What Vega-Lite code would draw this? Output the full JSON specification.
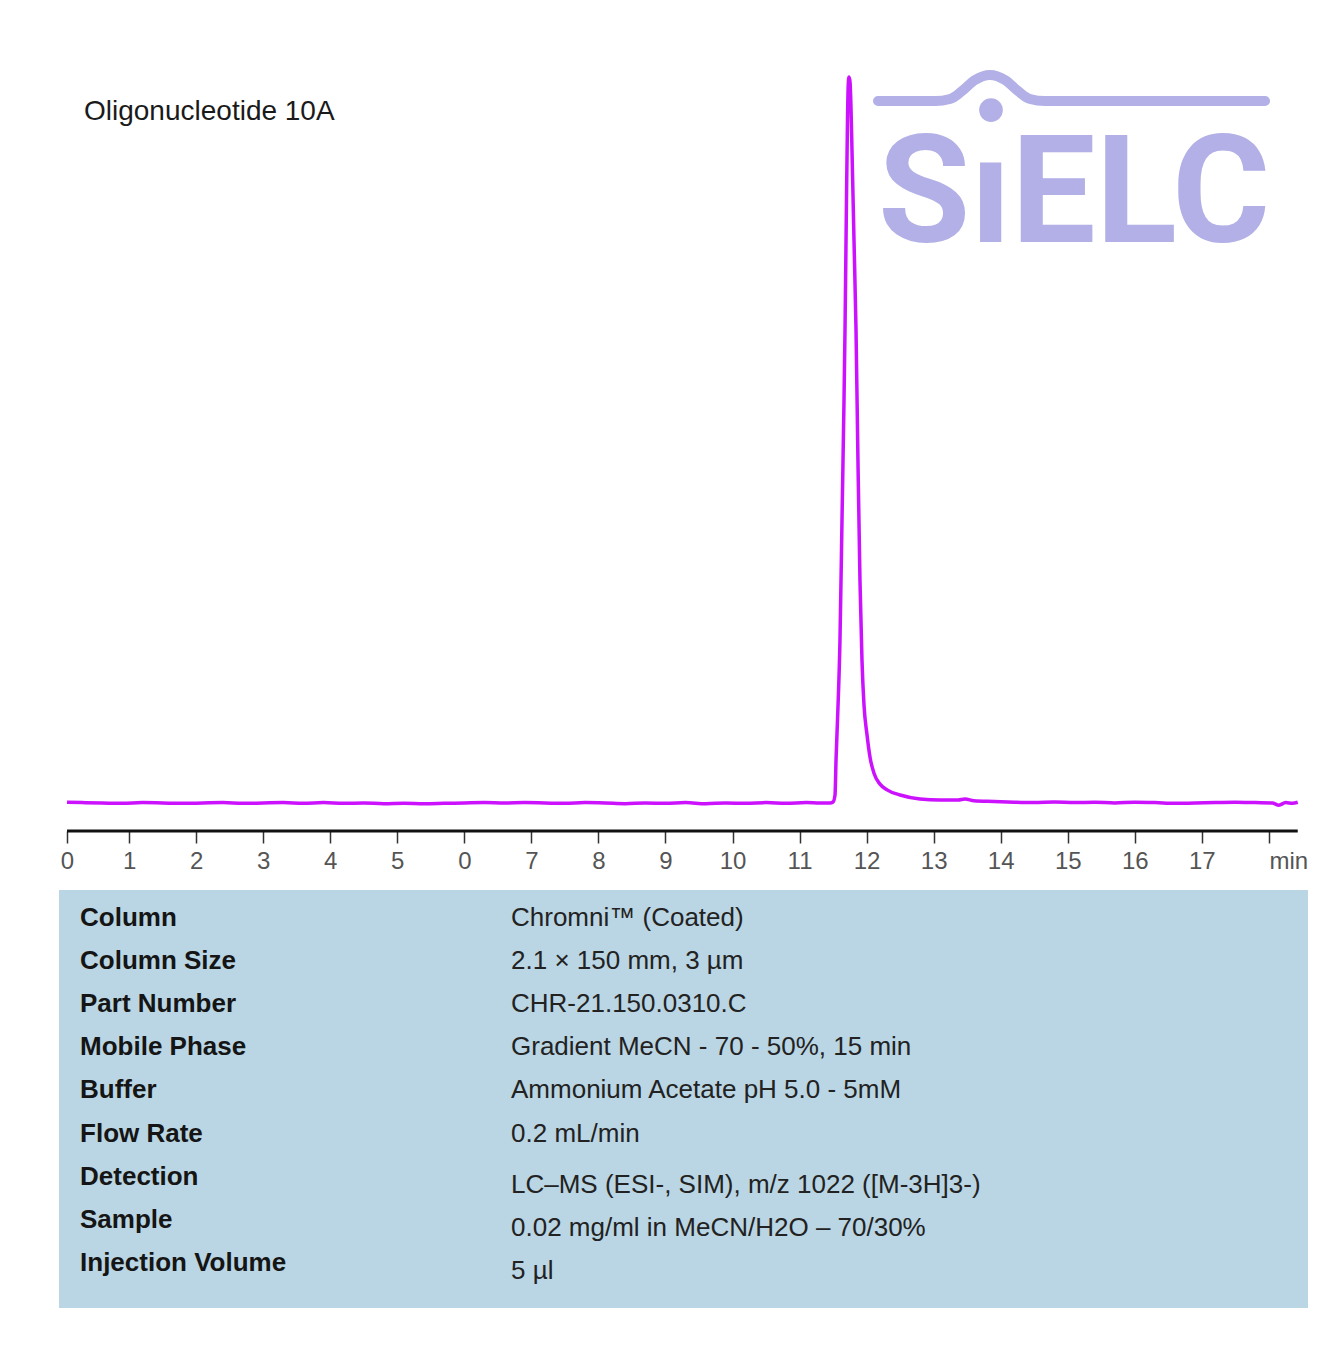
{
  "$schema": "https://vega.github.io/schema/vega-lite/v6.json",
  "background": "white",
  "padding": {"left": 59, "top": 40, "right": 0, "bottom": 0},
  "config": {"font": "Liberation Sans"},
  "spacing": 17,
  "datasets": {
    "trace": [
      {"t": 0.075, "s": 0.1}, {"t": 0.3, "s": 0.05}, {"t": 0.6, "s": 0.0}, {"t": 0.9, "s": -0.05},
      {"t": 1.2, "s": 0.05}, {"t": 1.5, "s": 0.0}, {"t": 1.8, "s": -0.05}, {"t": 2.1, "s": 0.0},
      {"t": 2.4, "s": 0.05}, {"t": 2.7, "s": -0.05}, {"t": 3.0, "s": 0.0}, {"t": 3.3, "s": 0.05},
      {"t": 3.6, "s": -0.05}, {"t": 3.9, "s": 0.05}, {"t": 4.2, "s": -0.05}, {"t": 4.5, "s": 0.0},
      {"t": 4.8, "s": -0.1}, {"t": 5.1, "s": -0.05}, {"t": 5.4, "s": -0.1}, {"t": 5.7, "s": -0.05},
      {"t": 6.0, "s": 0.0}, {"t": 6.3, "s": 0.05}, {"t": 6.6, "s": 0.0}, {"t": 6.9, "s": 0.05},
      {"t": 7.2, "s": 0.0}, {"t": 7.5, "s": -0.05}, {"t": 7.8, "s": 0.05}, {"t": 8.1, "s": 0.0},
      {"t": 8.4, "s": -0.1}, {"t": 8.7, "s": 0.0}, {"t": 9.0, "s": -0.05}, {"t": 9.3, "s": 0.05},
      {"t": 9.6, "s": -0.1}, {"t": 9.9, "s": 0.0}, {"t": 10.2, "s": -0.05}, {"t": 10.5, "s": 0.05},
      {"t": 10.8, "s": -0.05}, {"t": 11.1, "s": 0.05}, {"t": 11.3, "s": 0.0},
      {"t": 11.454, "s": 0.0}, {"t": 11.499, "s": 0.14}, {"t": 11.529, "s": 1.1}, {"t": 11.544, "s": 5.9},
      {"t": 11.566, "s": 11.4}, {"t": 11.603, "s": 22.5}, {"t": 11.633, "s": 39.0}, {"t": 11.663, "s": 55.5},
      {"t": 11.678, "s": 65.2}, {"t": 11.7, "s": 83.1}, {"t": 11.715, "s": 94.1}, {"t": 11.726, "s": 98.9},
      {"t": 11.738, "s": 100.0}, {"t": 11.753, "s": 99.3}, {"t": 11.768, "s": 95.5}, {"t": 11.782, "s": 89.9},
      {"t": 11.812, "s": 77.5}, {"t": 11.842, "s": 65.2}, {"t": 11.871, "s": 47.2}, {"t": 11.901, "s": 30.7},
      {"t": 11.931, "s": 19.7}, {"t": 11.961, "s": 13.5}, {"t": 12.006, "s": 9.4}, {"t": 12.051, "s": 6.3},
      {"t": 12.11, "s": 4.1}, {"t": 12.2, "s": 2.6}, {"t": 12.305, "s": 1.8}, {"t": 12.499, "s": 1.1},
      {"t": 12.797, "s": 0.55},
      {"t": 13.095, "s": 0.4}, {"t": 13.364, "s": 0.4}, {"t": 13.467, "s": 0.55}, {"t": 13.6, "s": 0.3},
      {"t": 13.9, "s": 0.2}, {"t": 14.2, "s": 0.1}, {"t": 14.5, "s": 0.05}, {"t": 14.8, "s": 0.15},
      {"t": 15.1, "s": 0.05}, {"t": 15.4, "s": 0.1}, {"t": 15.7, "s": 0.0}, {"t": 16.0, "s": 0.1},
      {"t": 16.3, "s": 0.05}, {"t": 16.6, "s": -0.05}, {"t": 16.9, "s": 0.0}, {"t": 17.2, "s": 0.05},
      {"t": 17.5, "s": 0.1}, {"t": 17.8, "s": 0.05}, {"t": 18.05, "s": 0.0}, {"t": 18.15, "s": -0.3},
      {"t": 18.25, "s": 0.05}, {"t": 18.35, "s": -0.05}, {"t": 18.43, "s": 0.1}
    ],
    "wave": [
      {"t": 12.17, "s": 96.69}, {"t": 13.02, "s": 96.69}, {"t": 13.244, "s": 96.97}, {"t": 13.423, "s": 98.07},
      {"t": 13.617, "s": 99.59}, {"t": 13.84, "s": 100.28}, {"t": 14.064, "s": 99.59}, {"t": 14.258, "s": 98.07},
      {"t": 14.437, "s": 96.97}, {"t": 14.661, "s": 96.69}, {"t": 17.942, "s": 96.69}
    ],
    "logo": [{"t": 12.17, "s": 77.3, "name": "SıELC"}],
    "dot": [{"t": 13.855, "s": 95.45}],
    "table": [
      {"i": 1, "col": "param", "text": "Column"},
      {"i": 2, "col": "param", "text": "Column Size"},
      {"i": 3, "col": "param", "text": "Part Number"},
      {"i": 4, "col": "param", "text": "Mobile Phase"},
      {"i": 5, "col": "param", "text": "Buffer"},
      {"i": 6, "col": "param", "text": "Flow Rate"},
      {"i": 7, "col": "param", "text": "Detection"},
      {"i": 8, "col": "param", "text": "Sample"},
      {"i": 9, "col": "param", "text": "Injection Volume"},
      {"i": 1, "col": "value", "text": "Chromni™ (Coated)"},
      {"i": 2, "col": "value", "text": "2.1 × 150 mm, 3 µm"},
      {"i": 3, "col": "value", "text": "CHR-21.150.0310.C"},
      {"i": 4, "col": "value", "text": "Gradient MeCN - 70 - 50%, 15 min"},
      {"i": 5, "col": "value", "text": "Ammonium Acetate pH 5.0  - 5mM"},
      {"i": 6, "col": "value", "text": "0.2 mL/min"},
      {"i": 7, "col": "value", "text": "LC–MS (ESI-, SIM), m/z 1022 ([M-3H]3-)"},
      {"i": 8, "col": "value", "text": "0.02 mg/ml in MeCN/H2O – 70/30%"},
      {"i": 9, "col": "value", "text": "5 µl"}
    ]
  },
  "vconcat": [
    {
      "width": 1249,
      "height": 791,
      "view": {"stroke": null},
      "title": {
        "text": "Oligonucleotide 10A",
        "anchor": "start",
        "frame": "group",
        "orient": "top",
        "offset": -100,
        "dx": 25,
        "baseline": "middle",
        "fontSize": 28,
        "fontWeight": "normal",
        "font": "Liberation Sans",
        "color": "#1a1a1a"
      },
      "layer": [
        {
          "data": {"name": "wave"},
          "mark": {"type": "line", "color": "#b2b0e6", "strokeWidth": 10, "strokeCap": "round", "interpolate": "monotone"},
          "encoding": {
            "x": {
              "field": "t",
              "type": "quantitative",
              "scale": {"domain": [-0.0447, 18.583], "nice": false, "zero": false},
              "axis": {
                "orient": "bottom",
                "title": null,
                "domain": false,
                "grid": false,
                "format": "d",
                "values": [0.075, 1, 2, 3, 4, 5, 6, 7, 8, 9, 10, 11, 12, 13, 14, 15, 16, 17, 18],
                "labelExpr": "datum.value < 0.5 ? '0' : datum.value == 6 ? '0' : datum.value == 18 ? 'min' : format(datum.value, 'd')",
                "labelAlign": {"condition": {"test": "datum.value == 18", "value": "left"}, "value": "center"},
                "labelFont": "Liberation Sans",
                "labelFontSize": 24,
                "labelColor": "#555555",
                "labelPadding": 6,
                "labelFlush": false,
                "labelOverlap": false,
                "tickColor": "#333333",
                "tickSize": 12,
                "tickWidth": 1.5
              }
            },
            "y": {
              "field": "s",
              "type": "quantitative",
              "scale": {"domain": [-3.86, 105.1], "nice": false, "zero": false},
              "axis": null
            }
          }
        },
        {
          "data": {"name": "logo"},
          "mark": {"type": "text", "color": "#b2b0e6", "font": "Roboto", "fontWeight": "bold", "fontSize": 150, "align": "left", "baseline": "alphabetic"},
          "encoding": {
            "x": {"field": "t", "type": "quantitative"},
            "y": {"field": "s", "type": "quantitative"},
            "text": {"field": "name"}
          }
        },
        {
          "data": {"name": "dot"},
          "mark": {"type": "point", "filled": true, "opacity": 1, "color": "#b2b0e6", "size": 560, "shape": "circle"},
          "encoding": {
            "x": {"field": "t", "type": "quantitative"},
            "y": {"field": "s", "type": "quantitative"}
          }
        },
        {
          "data": {"values": [{}]},
          "mark": {"type": "rule", "color": "#111111", "strokeWidth": 3},
          "encoding": {
            "x": {"datum": 0.075},
            "x2": {"datum": 18.43},
            "y": {"datum": -3.86}
          }
        },
        {
          "data": {"name": "trace"},
          "mark": {"type": "line", "color": "#cc11ff", "strokeWidth": 3.5, "interpolate": "monotone"},
          "encoding": {
            "x": {"field": "t", "type": "quantitative"},
            "y": {"field": "s", "type": "quantitative"}
          }
        }
      ]
    },
    {
      "width": 1249,
      "height": 418,
      "view": {"fill": "#bad5e3", "stroke": null},
      "data": {"name": "table"},
      "encoding": {
        "y": {"field": "i", "type": "ordinal", "axis": null, "scale": {"type": "point", "padding": 0.838, "align": 0.38}},
        "x": {"field": "col", "type": "nominal", "axis": null, "scale": {"type": "point", "padding": 0.949, "align": 0.0257}},
        "text": {"field": "text"}
      },
      "layer": [
        {
          "transform": [{"filter": "datum.col == 'param'"}],
          "mark": {"type": "text", "align": "left", "baseline": "middle", "font": "Liberation Sans", "fontWeight": "bold", "fontSize": 26, "color": "#151515"}
        },
        {
          "transform": [{"filter": "datum.col == 'value' && datum.i <= 6"}],
          "mark": {"type": "text", "align": "left", "baseline": "middle", "font": "Liberation Sans", "fontSize": 26, "color": "#222222"}
        },
        {
          "transform": [{"filter": "datum.col == 'value' && datum.i >= 7"}],
          "mark": {"type": "text", "align": "left", "baseline": "middle", "dy": 8, "font": "Liberation Sans", "fontSize": 26, "color": "#222222"}
        }
      ]
    }
  ]
}
